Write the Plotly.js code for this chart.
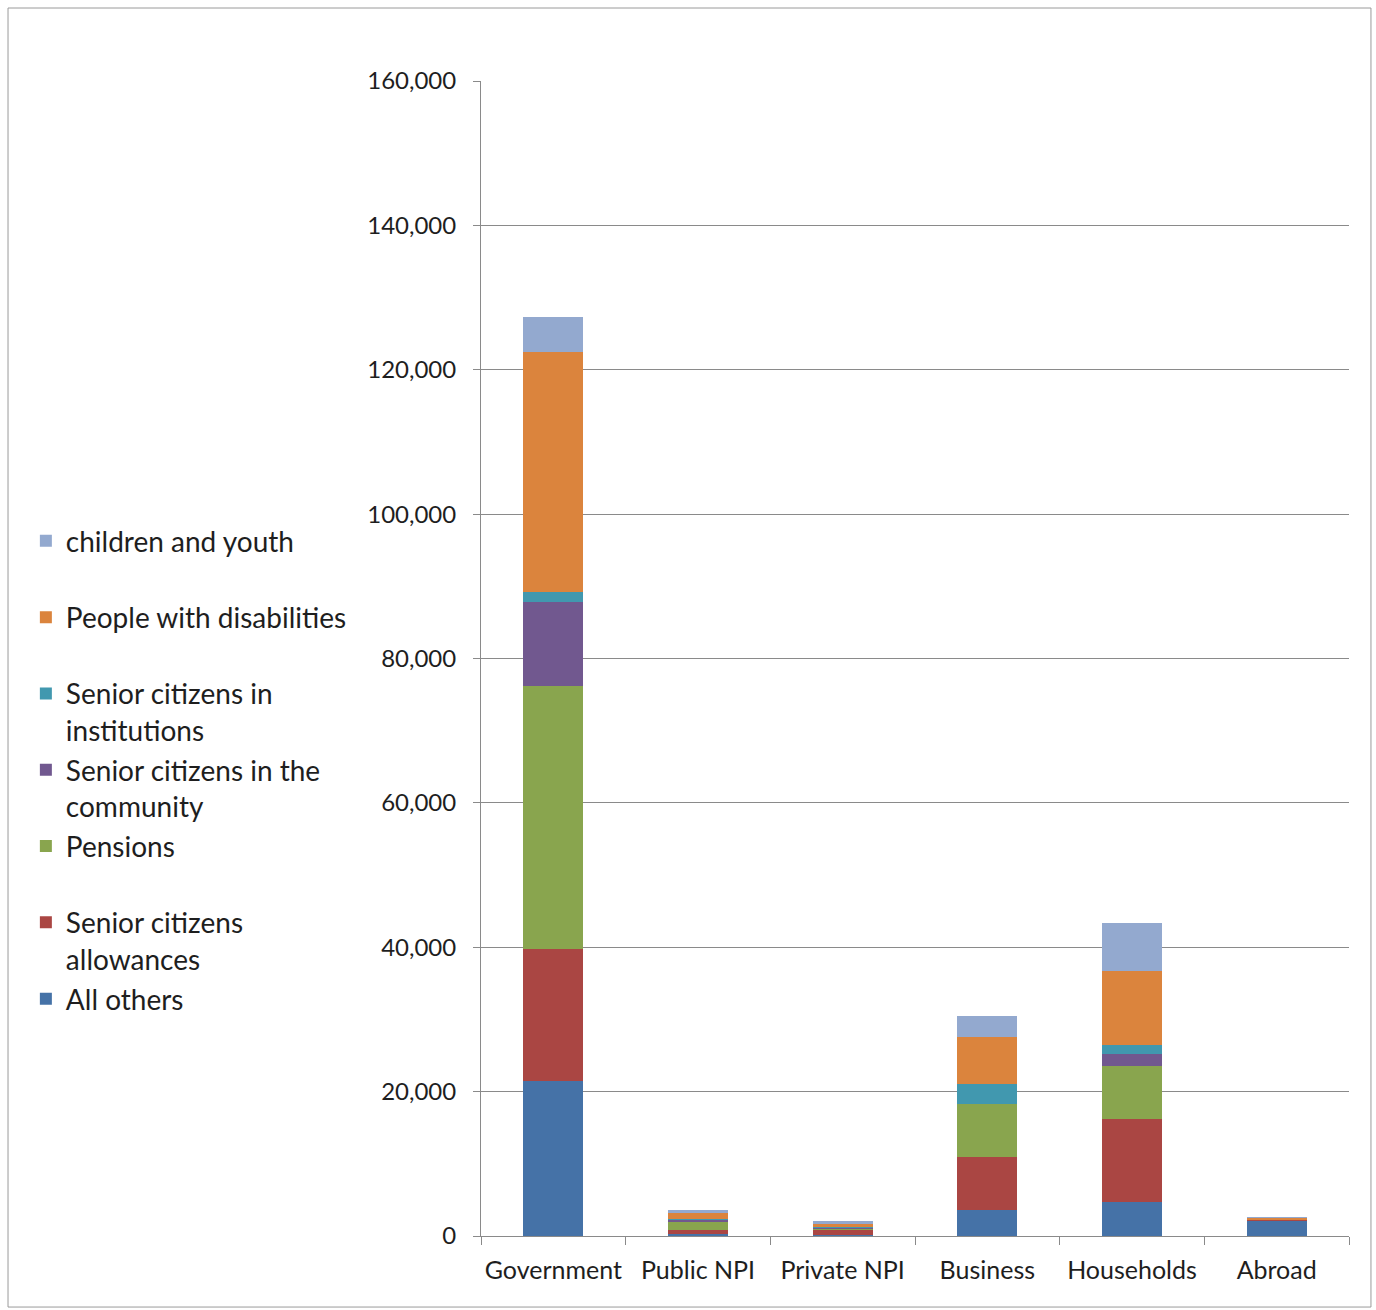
<!DOCTYPE html>
<html>
<head>
<meta charset="utf-8">
<script src="https://cdn.plot.ly/plotly-3.0.1.min.js"></script>
<style>
  html, body { margin: 0; padding: 0; background: #ffffff; }
  #chart { width: 1376px; height: 1310px; }
</style>
</head>
<body>
<div id="chart"></div>
<script>
// Spending by financing sector, split by social welfare area
const sectors = ["Government", "Public NPI", "Private NPI", "Business", "Households", "Abroad"];

const allOthers      = [21500,  300,  200,  3600,  4700, 2100];
const seniorAllow    = [18300,  600,  700,  7300, 11500,   50];
const pensions       = [36400, 1100,  100,  7400,  7300,    0];
const seniorCommun   = [11600,  200,  100,     0,  1700,    0];
const seniorInstit   = [ 1400,  200,  100,  2800,  1300,    0];
const disabilities   = [33300,  800,  500,  6500, 10200,  400];
const childrenYouth  = [ 4800,  400,  400,  2900,  6700,  100];

const seriesNames = [
  "All others",
  "Senior citizens<br>allowances",
  "Pensions<br>&nbsp;",
  "Senior citizens in the<br>community",
  "Senior citizens in<br>institutions",
  "People with disabilities<br>&nbsp;",
  "children and youth<br>&nbsp;"
];
const seriesValues = [allOthers, seniorAllow, pensions, seniorCommun, seniorInstit, disabilities, childrenYouth];
const seriesColors = ["#4572A7", "#AA4643", "#89A54E", "#71588F", "#4198AF", "#DB843D", "#93A9CF"];

const FONT = "Lato, 'Noto Sans', sans-serif";
const TEXT = "#1e1e1e";
const LINE = "#8a8a8a";

// stacked bottom-to-top; legend lists the top segment first
const traces = seriesValues.map((vals, i) => ({
  type: "bar",
  name: seriesNames[i],
  legendgroup: "g" + i,
  legendrank: 100 - i * 10,
  x: sectors,
  y: vals,
  marker: { color: seriesColors[i], line: { width: 0 } },
  hoverinfo: "x+y"
}));

const layout = {
  width: 1376,
  height: 1310,
  barmode: "stack",
  bargap: 0.585,
  paper_bgcolor: "#ffffff",
  plot_bgcolor: "#ffffff",
  margin: { l: 481, r: 27, t: 81, b: 74 },
  font: { family: FONT, size: 24, color: TEXT },
  showlegend: true,
  legend: {
    xref: "container",
    yref: "container",
    x: 0.0188,
    y: 0.606,
    xanchor: "left",
    yanchor: "top",
    traceorder: "grouped",
    tracegroupgap: 0.5,
    valign: "top",
    font: { family: FONT, size: 28, color: TEXT },
    bgcolor: "rgba(0,0,0,0)"
  },
  xaxis: {
    type: "category",
    showline: true,
    linecolor: LINE,
    linewidth: 1,
    ticks: "outside",
    tickson: "boundaries",
    ticklen: 8,
    tickcolor: LINE,
    showgrid: false,
    tickangle: 0,
    automargin: false,
    tickfont: { family: FONT, size: 25, color: TEXT },
    ticklabelstandoff: 12
  },
  yaxis: {
    range: [0, 160000],
    dtick: 20000,
    tickformat: ",d",
    showline: true,
    linecolor: LINE,
    linewidth: 1,
    ticks: "outside",
    ticklen: 7,
    tickcolor: LINE,
    showgrid: true,
    gridcolor: LINE,
    gridwidth: 1,
    zeroline: false,
    tickfont: { family: FONT, size: 24, color: TEXT },
    ticklabelstandoff: 12
  },
  shapes: [{
    type: "rect",
    xref: "paper", yref: "paper",
    x0: -0.5449, x1: 1.0253,
    y0: -0.0615, y1: 1.0632,
    line: { color: "#9a9a9a", width: 1 },
    fillcolor: "rgba(0,0,0,0)",
    layer: "below"
  }]
};

Plotly.newPlot("chart", traces, layout, { displayModeBar: false, staticPlot: true });
</script>
</body>
</html>
